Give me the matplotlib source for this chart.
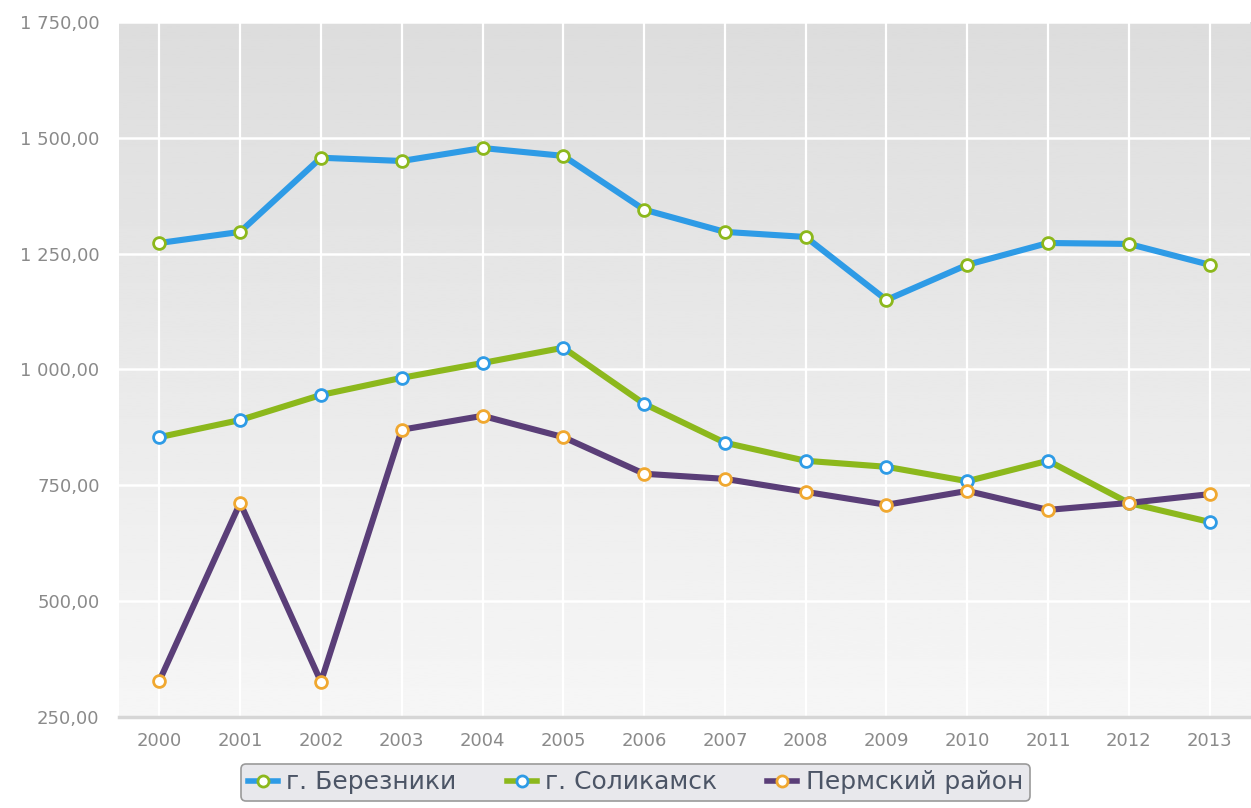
import numpy as np
import matplotlib.pyplot as plt
from matplotlib.lines import Line2D

years = ['2000', '2001', '2002', '2003', '2004', '2005', '2006',
         '2007', '2008', '2009', '2010', '2011', '2012', '2013']

berezniki = [1273, 1297, 1457, 1450, 1478, 1461, 1345,
             1297, 1286, 1150, 1226, 1273, 1271, 1226]
solikamsk = [854, 891, 945, 982, 1014, 1047, 926,
             842, 803, 790, 759, 803, 712, 671]
perm_rayon = [328, 712, 326, 870, 900, 854, 775,
              764, 736, 708, 738, 697, 712, 731]

series_names = ['г. Березники', 'г. Соликамск', 'Пермский район']
line_colors = ['#2e9be6', '#8cb81c', '#5a3e78']
marker_colors = ['#8cb81c', '#2e9be6', '#f0a830']

y_ticks = [250, 500, 750, 1000, 1250, 1500, 1750]


def fmt(v, pos=None):
    s = f'{v:,.2f}'
    return s.replace(',', ' ').replace('.', ',')


fig = plt.figure(figsize=(12.51, 8.08), dpi=100)
ax = fig.add_axes([0.0951, 0.1126, 0.9041, 0.8602])

x = np.arange(len(years))
ax.set_xlim(-0.5, len(years) - 0.5)
ax.set_ylim(250, 1750)

# gradient background
grad = np.linspace(0.965, 0.865, 256).reshape(-1, 1)
ax.imshow(grad, extent=[-0.5, len(years) - 0.5, 250, 1750], aspect='auto',
          cmap='gray', vmin=0, vmax=1, origin='lower', zorder=0)

for xi in x:
    ax.axvline(xi, color='white', lw=1.6, zorder=1)
for yv in y_ticks[1:]:
    ax.axhline(yv, color='white', lw=1.8, zorder=1)

data = [berezniki, solikamsk, perm_rayon]
for vals, lc in zip(data, line_colors):
    ax.plot(x, vals, color=lc, lw=4.4, zorder=3, solid_capstyle='round')
for vals, mc in zip(data, marker_colors):
    ax.plot(x, vals, ls='none', marker='o', ms=8.5, mfc='white', mec=mc,
            mew=2.0, zorder=4)

for s in ['top', 'right', 'left']:
    ax.spines[s].set_visible(False)
ax.spines['bottom'].set_color('#d6d6d6')
ax.spines['bottom'].set_linewidth(2.5)

ax.set_xticks(x)
ax.set_xticklabels(years)
ax.set_yticks(y_ticks)
ax.yaxis.set_major_formatter(plt.FuncFormatter(fmt))
ax.tick_params(axis='both', length=0, labelsize=13, labelcolor='#8a8a8a')
ax.tick_params(axis='x', pad=11)
ax.tick_params(axis='y', pad=14)

handles = [Line2D([0], [0], color=lc, lw=4, marker='o', ms=8, mfc='white',
                  mec=mc, mew=2)
           for lc, mc in zip(line_colors, marker_colors)]
leg = fig.legend(handles, series_names, loc='upper center',
                 bbox_to_anchor=(0.508, 1 - 764 / 808), ncol=3,
                 fontsize=18, frameon=True, fancybox=True,
                 handlelength=1.2, handletextpad=0.35, columnspacing=2.0,
                 borderpad=0.25, borderaxespad=0, labelcolor='#4c5566')
leg.get_frame().set_facecolor('#e8e8ec')
leg.get_frame().set_edgecolor('#9a9a9a')
leg.get_frame().set_linewidth(1.2)
leg.get_frame().set_alpha(1)

fig.savefig('out.png', dpi=100)
